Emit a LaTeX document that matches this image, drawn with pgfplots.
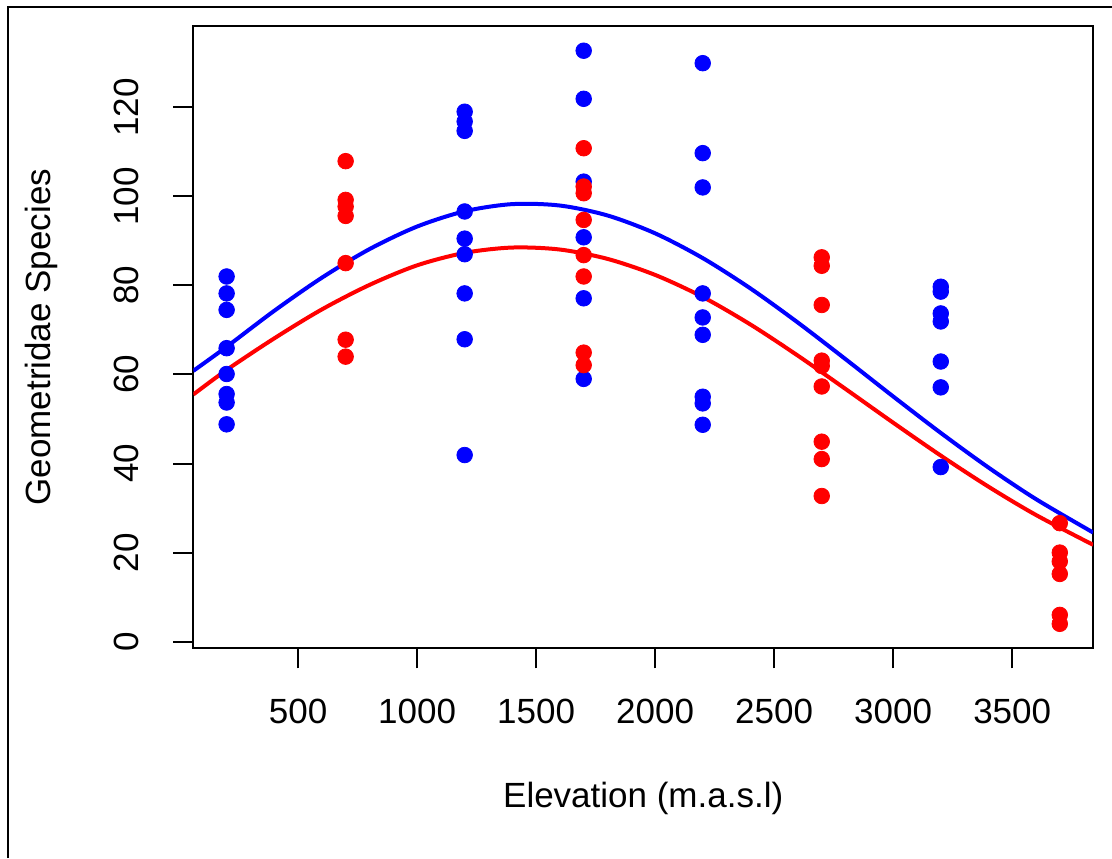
\documentclass[border=0pt]{standalone}
\usepackage{fontspec}
\setmainfont{Liberation Sans}
\usepackage{pgfplots}
\pgfplotsset{compat=1.18}
\usepackage{pgfplotstable}

\pgfplotstableread{
x y
200 82.0
200 78.2
200 74.5
200 65.9
200 60.1
200 55.6
200 53.7
200 48.8
1200 119.0
1200 116.8
1200 114.7
1200 96.6
1200 90.5
1200 87.0
1200 78.2
1200 67.9
1200 41.9
1700 132.7
1700 121.9
1700 103.3
1700 90.8
1700 77.1
1700 59.0
2200 129.9
2200 109.7
2200 102.0
2200 78.2
2200 72.8
2200 68.9
2200 55.0
2200 53.5
2200 48.7
3200 79.7
3200 78.6
3200 73.7
3200 71.9
3200 62.9
3200 57.1
3200 39.2
}\bluepts

\pgfplotstableread{
x y
700 107.9
700 99.2
700 97.7
700 95.6
700 85.0
700 67.8
700 64.0
1700 110.8
1700 102.2
1700 100.7
1700 94.7
1700 86.8
1700 82.0
1700 64.9
1700 62.1
2700 86.3
2700 84.4
2700 75.6
2700 63.1
2700 61.9
2700 57.3
2700 44.9
2700 41.0
2700 32.7
3700 26.6
3700 20.0
3700 18.0
3700 15.2
3700 6.0
3700 4.0
}\redpts

\pgfplotstableread{
x y
60 60.8
200 66.21
400 74.29
600 81.72
800 88.14
1000 93.21
1200 96.64
1400 98.25
1600 97.93
1800 95.70
2000 91.69
2200 86.13
2400 79.33
2600 71.64
2800 63.43
3000 55.06
3200 46.87
3400 39.11
3600 32.00
3840 24.50
}\bluefit

\pgfplotstableread{
x y
60 55.50
200 61.01
400 68.10
600 74.60
800 80.10
1000 84.50
1200 87.30
1400 88.50
1600 88.05
1800 85.95
2000 82.35
2200 77.40
2400 71.23
2600 64.21
2800 56.74
3000 49.17
3200 41.78
3400 34.81
3600 28.44
3840 21.74
}\redfit

\begin{document}
\begin{tikzpicture}
\useasboundingbox (0,0) rectangle (556pt,429pt);
\draw[line width=1pt] (4.15pt,0) -- (4.15pt,425.65pt) -- (556pt,425.65pt);
\begin{axis}[
  at={(96.65pt,104.85pt)}, anchor=south west,
  scale only axis, width=449.9pt, height=311.15pt,
  xmin=60, xmax=3840, ymin=-1.5, ymax=138.25,
  axis line style={line width=1pt},
  xtick={500,1000,...,3500}, ytick={0,20,...,120},
  tick align=outside, major tick length=10pt,
  tick pos=left,
  tick style={line width=1pt, black},
  tick label style={font=\fontsize{17.5}{21}\selectfont},
  label style={font=\fontsize{17.5}{21}\selectfont},
  /pgf/number format/assume math mode=true,
  /pgf/number format/1000 sep={},
  xticklabel style={anchor=center, yshift=-21.5pt},
  yticklabel style={anchor=center, xshift=-23.2pt, rotate=90},
  xlabel={Elevation (m.a.s.l)},
  ylabel={Geometridae Species},
  xlabel style={at={(axis description cs:0.5,-0.2406)}, anchor=center},
  ylabel style={at={(axis description cs:-0.1690,0.5)}, anchor=center},
]
\addplot[only marks, mark=*, mark size=3.9pt, blue, mark options={draw=blue, fill=blue}] table {\bluepts};
\addplot[only marks, mark=*, mark size=3.9pt, red, mark options={draw=red, fill=red}] table {\redpts};
\addplot[blue, line width=2pt, smooth, no marks] table {\bluefit};
\addplot[red, line width=2pt, smooth, no marks] table {\redfit};
\end{axis}
\end{tikzpicture}
\end{document}
